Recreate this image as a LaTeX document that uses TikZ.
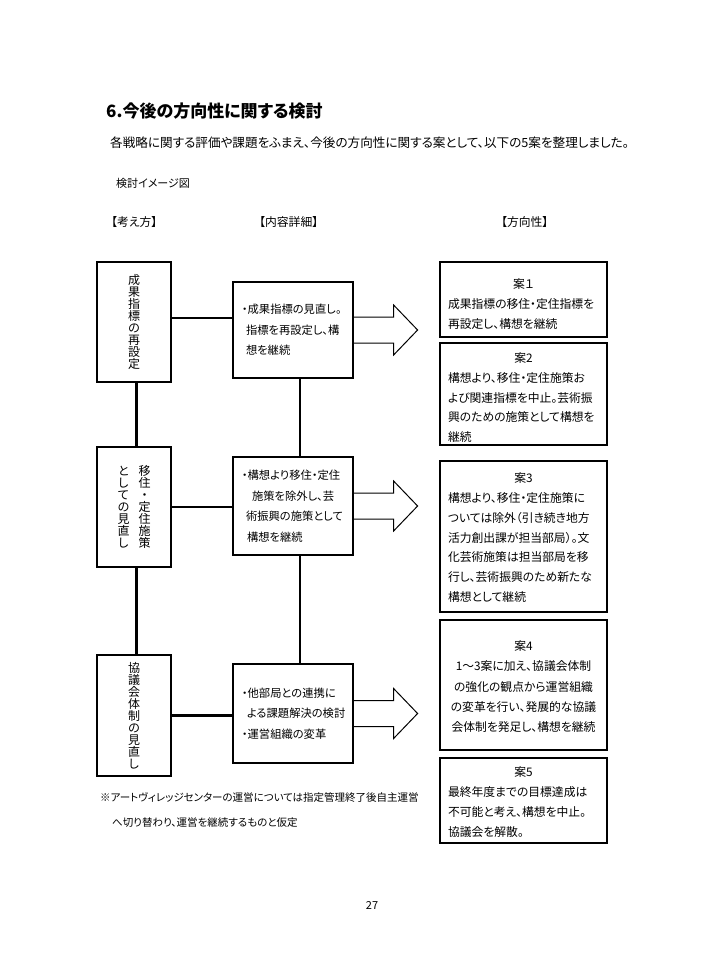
\documentclass[tikz,border=0pt]{standalone}
\usepackage{fontspec}
\setmainfont{Noto Sans CJK JP}[RawFeature=+palt]
\usetikzlibrary{calc}
\newcommand\tatetext[1]{\vbox{\baselineskip=12pt\lineskiplimit=-100pt\relax\tatestep#1\relax}}
\def\tatestep#1{\ifx\relax#1\else\hbox to 12pt{\hss#1\hss}\expandafter\tatestep\fi}
\newcommand\anhead[2]{\rule{0pt}{#1}\makebox[151pt]{#2}}
\begin{document}
\begin{tikzpicture}[x=1pt,y=-1pt,
  box/.style={draw, line width=1.2pt, inner sep=0pt},
  leftbox/.style={box, minimum width=74pt, font=\fontsize{12}{12}\selectfont},
  midbox/.style={box, minimum width=120pt, inner xsep=9pt, text width=102pt, align=left,
     font=\fontsize{11.3}{20.5}\selectfont},
  rightbox/.style={box, minimum width=167pt, inner xsep=8pt, text width=151pt, align=left,
     font=\fontsize{11.8}{19.8}\selectfont},
  link/.style={line width=2.6pt},
  bigarrow/.style={line width=1pt, line join=miter},
  plain/.style={anchor=west, inner sep=0pt}]
\fill[white] (0,0) rectangle (720,960);
\useasboundingbox (0,0) rectangle (720,960);

% headings
\node[plain, font=\fontsize{17}{17}\selectfont\bfseries] (title) at (106,111) {6.今後の方向性に関する検討};
\node[plain, font=\fontsize{12.6}{12.6}\selectfont] (lead) at (110,143) {各戦略に関する評価や課題をふまえ、今後の方向性に関する案として、以下の5案を整理しました。};
\node[plain, font=\fontsize{11}{11}\selectfont] (fig) at (116,183) {検討イメージ図};
\node[plain, font=\fontsize{11.8}{11.8}\selectfont] (h1) at (111,222) {【考え方】};
\node[plain, font=\fontsize{11.8}{11.8}\selectfont] (h2) at (259,222) {【内容詳細】};
\node[plain, font=\fontsize{11.8}{11.8}\selectfont] (h3) at (501,222) {【方向性】};

% left boxes
\node[leftbox, minimum height=120pt] (A) at (134,322) {\tatetext{成果指標の再設定}};
\node[leftbox, minimum height=120pt] (B) at (134,507) {\tatetext{としての見直し}\hspace{9pt}\tatetext{移住・定住施策}};
\node[leftbox, minimum height=121pt] (C) at (134,715.5) {\tatetext{協議会体制の見直し}};

% middle boxes
\node[midbox, minimum height=96pt] (M1) at (293,330) {・成果指標の見直し。\\\hspace*{4pt}指標を再設定し、構\\\hspace*{4pt}想を継続};
\node[midbox, minimum height=98pt] (M2) at (293,506) {・構想より移住・定住\\\hspace*{10pt}施策を除外し、芸\\\hspace*{4pt}術振興の施策として\\\hspace*{5pt}構想を継続};
\node[midbox, minimum height=99pt] (M3) at (293,713.5) {・他部局との連携に\\\hspace*{5pt}よる課題解決の検討\\・運営組織の変革};

% right boxes
\node[rightbox, minimum height=75pt] (R1) at (523.5,299.5) {\anhead{18.4pt}{案１}\\成果指標の移住・定住指標を\\再設定し、構想を継続};
\node[rightbox, minimum height=102pt] (R2) at (523.5,394) {\anhead{17pt}{案2}\\構想より、移住・定住施策お\\よび関連指標を中止。芸術振\\興のための施策として構想を\\継続};
\node[rightbox, minimum height=151pt] (R3) at (523.5,536.5) {\anhead{12pt}{案3}\\構想より、移住・定住施策に\\ついては除外（引き続き地方\\活力創出課が担当部局）。文\\化芸術施策は担当部局を移\\行し、芸術振興のため新たな\\構想として継続};
\node[rightbox, align=center, minimum height=130pt, font=\fontsize{11.8}{20.3}\selectfont] (R4) at (523.5,685) {\rule{0pt}{13pt}案4\\1～3案に加え、協議会体制\\の強化の観点から運営組織\\の変革を行い、発展的な協議\\会体制を発足し、構想を継続};
\node[rightbox, minimum height=85pt] (R5) at (523.5,800.5) {\anhead{13pt}{案5}\\最終年度までの目標達成は\\不可能と考え、構想を中止。\\協議会を解散。};

% connectors
\draw[link] ($(A.east)+(0,-4)$) -- ($(A.east -| M1.west)+(0,-4)$);
\draw[link] (B.east) -- (B.east -| M2.west);
\draw[link] (C.east) -- (C.east -| M3.west);
\draw[link] ($(A.south)+(2.5,0)$) -- ($(B.north)+(2.5,0)$);
\draw[link] ($(B.south)+(2.5,0)$) -- ($(C.north)+(2.5,0)$);
\draw[link] ($(M1.south)+(7,0)$) -- ($(M2.north)+(7,0)$);
\draw[link] ($(M2.south)+(7,0)$) -- ($(M3.north)+(7,0)$);

% block arrows
\foreach \m in {M1,M2,M3}{
  \draw[bigarrow] ($(\m.east)+(0,-13)$) -- ($(\m.east)+(40,-13)$) -- ($(\m.east)+(40,-25)$)
    -- ($(\m.east)+(64,0)$) -- ($(\m.east)+(40,25)$) -- ($(\m.east)+(40,13)$) -- ($(\m.east)+(0,13)$);
}

% footnote and page number
\node[anchor=west, inner sep=0pt, align=left, font=\fontsize{10.5}{25}\selectfont] (note) at (100,809.5)
  {※アートヴィレッジセンターの運営については指定管理終了後自主運営\\\hspace*{12pt}へ切り替わり、運営を継続するものと仮定};
\node[font=\fontsize{11}{11}\selectfont, inner sep=0pt] (page) at (372,905) {27};
\end{tikzpicture}
\end{document}
